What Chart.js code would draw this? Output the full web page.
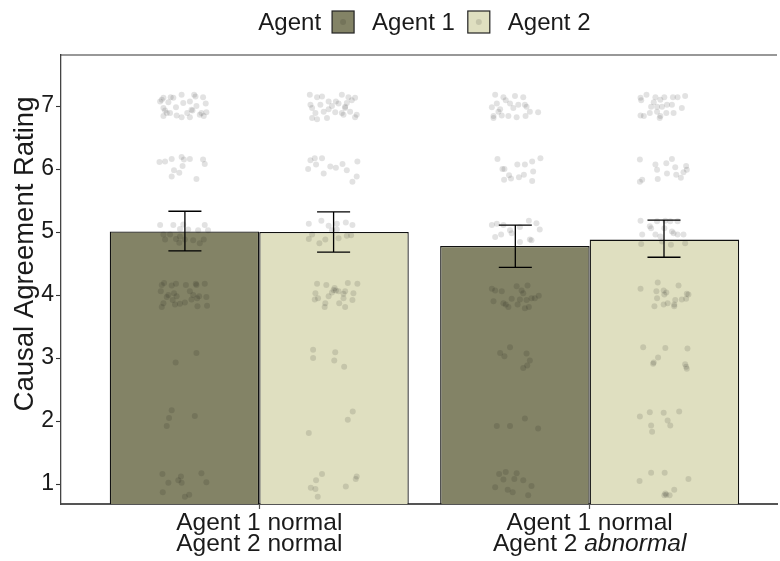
<!DOCTYPE html>
<html>
<head>
<meta charset="utf-8">
<script src="https://cdn.jsdelivr.net/npm/chart.js@4/dist/chart.umd.min.js"></script>
<style>
  html, body { margin: 0; padding: 0; background: #fff; overflow: hidden; }
  canvas { display: block; }
</style>
</head>
<body>
<canvas id="chart" width="780" height="561"></canvas>
<script>
// ---- data -------------------------------------------------------------
const agents = ['Agent 1', 'Agent 2'];
// each condition label has two lines; text between underscores is italic
const conditions = [
  ['Agent 1 normal', 'Agent 2 normal'],
  ['Agent 1 normal', 'Agent 2 _abnormal_']
];
const meanAgent1 = [5.01, 4.78];
const meanAgent2 = [5.00, 4.88];
const ciLowAgent1 = [4.70, 4.44];
const ciHighAgent1 = [5.33, 5.11];
const ciLowAgent2 = [4.68, 4.60];
const ciHighAgent2 = [5.32, 5.19];
const yTicks = [1, 2, 3, 4, 5, 6, 7];
const yTitle = 'Causal Agreement Rating';
const legendTitle = 'Agent';

// individual responses: [horizontal jitter, jittered rating]
const responsesAgent1Normal = [
  [-0.070,7.10],[-0.065,7.13],[-0.043,7.14],[-0.035,7.13],[-0.010,7.18],[0.028,7.18],[0.032,7.15],[0.055,7.14],
  [-0.075,7.07],[-0.050,7.06],[-0.027,6.98],[-0.065,6.97],[-0.060,6.93],[-0.045,6.89],[-0.005,7.05],[0.015,7.07],
  [0.020,6.94],[0.035,7.00],[0.063,7.04],[0.065,6.90],[-0.065,6.84],[-0.025,6.85],[-0.010,6.82],[0.015,6.82],
  [0.045,6.86],[0.057,6.84],[0.007,6.89],[-0.055,6.89],[0.023,6.93],[0.050,6.89],
  [-0.077,6.11],[-0.060,6.12],[-0.040,6.16],[-0.010,6.19],[-0.003,6.15],[0.015,6.16],[0.055,6.15],[0.060,6.08],
  [-0.007,6.05],[-0.033,5.98],[-0.017,5.94],[-0.040,5.88],[0.035,5.84],
  [-0.075,5.11],[-0.035,5.11],[-0.005,5.12],[-0.015,5.05],[0.010,5.04],[0.040,5.03],[0.060,5.11],[0.070,5.03],
  [-0.065,4.96],[-0.045,4.96],[-0.027,4.89],[-0.017,4.83],[0.000,4.88],[0.025,4.87],[0.045,4.82],[0.057,4.88],
  [-0.060,4.88],[-0.015,4.93],
  [-0.070,4.16],[-0.063,4.19],[-0.040,4.15],[-0.027,4.18],[0.003,4.16],[0.033,4.18],[0.060,4.18],[-0.073,4.06],
  [-0.050,4.00],[-0.033,4.03],[-0.055,3.97],[-0.037,3.92],[-0.065,3.87],[-0.070,3.81],[-0.030,3.85],[-0.015,3.86],
  [0.000,3.88],[0.015,4.06],[0.025,4.00],[0.037,3.95],[0.043,3.98],[0.065,3.97],[0.038,3.82],[0.067,3.83],
  [0.035,4.16],[0.020,3.93],[-0.025,3.98],
  [0.035,3.08],[-0.028,2.93],
  [-0.040,2.17],[-0.048,2.05],[-0.055,1.92],[0.030,2.08],
  [-0.068,1.16],[-0.012,1.12],[0.050,1.17],[-0.050,1.02],[-0.020,1.06],[-0.010,1.02],[0.065,1.03],[-0.067,0.87],
  [0.000,0.80],[0.013,0.83]
];
const responsesAgent2Normal = [
  [-0.072,7.18],[-0.050,7.14],[-0.035,7.15],[0.025,7.18],[0.045,7.14],[-0.070,7.02],[-0.065,6.97],[-0.040,7.02],
  [-0.015,7.07],[-0.005,7.00],[0.007,7.07],[0.015,7.04],[0.035,6.97],[0.040,7.05],[0.055,7.09],[0.065,7.13],
  [-0.055,6.89],[-0.030,6.91],[-0.015,6.95],[0.005,6.90],[0.025,6.89],[0.035,6.99],[0.070,6.86],[0.065,6.82],
  [-0.065,6.81],[-0.050,6.79],[-0.020,6.81],[0.030,6.86],[0.050,6.91],
  [-0.070,6.14],[-0.057,6.17],[-0.035,6.17],[-0.053,6.07],[-0.077,6.00],[-0.010,6.04],[0.007,6.02],[0.027,6.08],
  [0.040,5.98],[0.072,6.12],[-0.030,5.93],[0.070,5.88],[0.057,5.80],
  [-0.075,5.13],[-0.037,5.18],[-0.015,5.10],[0.010,5.13],[0.037,5.15],[0.057,5.11],[-0.065,4.96],[-0.075,4.89],
  [-0.043,4.82],[-0.005,5.03],[0.010,5.04],[0.040,4.94],[0.053,4.95],[-0.025,4.88],[0.015,4.90],
  [-0.050,4.18],[-0.022,4.16],[0.003,4.11],[0.007,4.07],[0.043,4.19],[0.072,4.18],[-0.055,4.03],[-0.047,3.95],
  [-0.057,3.93],[-0.015,3.98],[-0.005,4.04],[0.015,4.06],[0.030,4.02],[0.060,4.03],[-0.025,3.87],[-0.027,3.81],
  [0.017,3.87],[0.035,3.81],[0.057,3.92],[0.030,3.95],[0.000,4.08],[0.035,4.06],
  [-0.062,3.13],[-0.062,3.00],[0.005,3.09],[0.002,2.96],[0.032,2.86],
  [0.058,2.15],[0.043,2.02],[-0.075,1.81],
  [-0.035,1.16],[-0.053,1.06],[-0.069,0.94],[-0.055,0.92],[-0.048,0.80],[0.037,0.96],[0.067,1.08],[0.070,1.12]
];
const responsesAgent1Abnormal = [
  [-0.061,7.18],[-0.036,7.14],[-0.029,7.09],[-0.001,7.16],[0.024,7.14],[-0.056,7.04],[-0.071,6.98],[-0.046,6.95],
  [-0.016,7.04],[0.009,7.02],[0.029,7.02],[0.034,6.99],[0.044,6.91],[0.069,6.90],[-0.066,6.84],[-0.066,6.81],
  [-0.041,6.85],[-0.021,6.84],[0.004,6.82],[0.031,6.84],[-0.051,6.91],[-0.006,6.97],
  [-0.054,6.16],[-0.039,6.00],[-0.033,6.00],[0.006,6.07],[0.029,6.07],[0.051,6.12],[0.076,6.17],[-0.019,5.90],
  [0.011,5.87],[0.026,5.91],[-0.034,5.83],[-0.013,5.85],[0.051,5.81],[0.054,5.96],
  [-0.071,5.11],[-0.056,5.13],[-0.036,5.11],[-0.016,5.03],[0.014,5.08],[0.041,5.18],[0.064,5.14],[0.074,5.04],
  [-0.061,4.92],[-0.043,4.96],[-0.011,4.98],[0.014,4.84],[0.049,4.87],[0.044,4.88],
  [-0.071,4.10],[-0.061,4.07],[-0.041,4.06],[0.004,4.14],[0.019,4.07],[0.037,4.15],[-0.066,3.90],[-0.036,3.87],
  [-0.029,3.85],[-0.021,3.81],[-0.011,3.94],[0.007,3.85],[0.014,3.93],[0.034,3.92],[0.049,3.95],[0.059,3.95],
  [0.071,3.99],[0.029,3.79],[0.041,3.81],[0.024,4.03],
  [-0.016,3.17],[-0.046,3.08],[-0.033,3.03],[0.034,3.07],[0.044,2.96],[0.036,2.88],[0.024,2.84],
  [-0.056,1.92],[-0.016,1.92],[0.029,2.04],[0.069,1.88],
  [-0.049,1.16],[-0.029,1.19],[0.004,1.17],[-0.036,1.07],[-0.003,1.08],[0.024,1.06],[-0.061,0.95],[-0.023,0.91],
  [-0.008,0.87],[0.049,0.97],[0.039,0.82]
];
const responsesAgent2Abnormal = [
  [-0.071,7.13],[-0.069,7.09],[-0.053,7.18],[-0.026,7.14],[-0.011,7.10],[0.001,7.14],[0.027,7.14],[0.041,7.14],
  [0.064,7.16],[-0.031,7.06],[-0.039,6.99],[-0.006,6.99],[0.009,7.02],[0.024,7.02],[0.054,6.97],[-0.071,6.85],
  [-0.061,6.84],[-0.043,6.89],[-0.021,6.91],[-0.011,6.84],[-0.013,6.81],[0.007,6.89],[0.029,6.89],[-0.021,6.99],
  [-0.073,6.15],[-0.026,6.07],[-0.021,5.99],[0.007,6.09],[0.024,6.16],[0.034,6.03],[0.067,6.05],[0.069,5.99],
  [0.009,5.93],[-0.019,5.84],[-0.066,5.83],[-0.073,5.80],[0.037,5.91],[0.051,5.86],[0.059,5.95],
  [-0.071,5.18],[-0.043,5.09],[-0.039,5.06],[-0.021,5.17],[0.004,5.18],[0.019,5.17],[0.041,5.17],[-0.066,4.96],
  [-0.026,4.96],[-0.011,4.93],[0.029,4.98],[0.041,4.96],[0.059,4.96],[-0.069,4.81],[-0.006,4.85],[0.021,4.80],
  [0.064,4.82],[0.001,5.06],[0.024,5.01],
  [-0.071,4.10],[-0.019,4.20],[0.044,4.15],[-0.023,4.06],[-0.001,4.07],[0.007,4.04],[-0.021,3.95],[0.001,4.01],
  [0.069,4.02],[0.074,4.01],[0.067,3.94],[-0.029,3.82],[-0.001,3.85],[0.011,3.87],[0.031,3.82],[0.034,3.92],
  [0.054,3.93],[0.031,3.85],
  [-0.063,3.17],[0.004,3.16],[0.071,3.15],[-0.018,3.01],[-0.031,2.93],[-0.033,2.91],[0.064,2.90],[0.067,2.86],
  [0.069,2.83],
  [-0.073,2.07],[-0.043,2.14],[-0.001,2.13],[0.046,2.15],[0.011,2.01],[-0.039,1.93],[0.019,1.93],[-0.036,1.83],
  [-0.074,1.05],[-0.039,1.18],[0.002,1.18],[0.074,1.08],[0.031,0.91],[0.001,0.82],[0.007,0.83],[0.017,0.82],
  [0.004,0.85]
];

// ---- styling ----------------------------------------------------------
const FONT = '"Liberation Sans", Arial, Helvetica, sans-serif';
const TEXT = '#1a1a1a';
const fills = ['#838366', '#dfdfc0'];
const dotColor = 'rgba(0,0,0,0.115)';
const dotRadius = 3;
const dodge = [-0.225, 0.225];   // bar centres inside a group (group width 0.9)
const capHalf = 0.05;            // half width of error-bar caps
const xMin = 0.4, xFull = 2.6;   // full panel range; the right part is cut at the canvas edge

const means = [meanAgent1, meanAgent2];
const ciLow = [ciLowAgent1, ciLowAgent2];
const ciHigh = [ciHighAgent1, ciHighAgent2];
const responses = [
  [responsesAgent1Normal, responsesAgent1Abnormal],
  [responsesAgent2Normal, responsesAgent2Abnormal]
];

Chart.defaults.font.family = FONT;
Chart.defaults.color = TEXT;

const barSets = agents.map((name, s) => ({
  type: 'bar',
  label: name,
  order: 2,
  data: conditions.map((_, i) => ({ x: i + 1, y: means[s][i] })),
  backgroundColor: fills[s],
  borderColor: '#111',
  borderWidth: 1.3,
  borderSkipped: false,
  categoryPercentage: 0.905,
  barPercentage: 1.0,
  grouped: true
}));

const dotSets = [];
agents.forEach((name, s) => {
  conditions.forEach((_, i) => {
    dotSets.push({
      type: 'scatter',
      label: name + ' responses ' + (i + 1),
      order: 1,
      data: responses[s][i].map(([dx, v]) => ({ x: i + 1 + dodge[s] + dx, y: v })),
      backgroundColor: dotColor,
      borderWidth: 0,
      pointRadius: dotRadius,
      pointHoverRadius: dotRadius
    });
  });
});

function drawRich(ctx, line, cx, y, size) {
  // split "plain _italic_ plain" into runs and centre the whole line
  const parts = line.split('_').map((t, k) => ({ t, italic: k % 2 === 1 })).filter(p => p.t.length);
  const fontOf = p => (p.italic ? 'italic ' : '') + size + 'px ' + FONT;
  let total = 0;
  parts.forEach(p => { ctx.font = fontOf(p); p.w = ctx.measureText(p.t).width; total += p.w; });
  let x = cx - total / 2;
  ctx.textAlign = 'left';
  parts.forEach(p => { ctx.font = fontOf(p); ctx.fillText(p.t, x, y); x += p.w; });
}

const decorations = {
  id: 'decorations',
  afterDatasetsDraw(chart) {
    const { ctx, scales: { x, y } } = chart;
    ctx.save();
    ctx.strokeStyle = '#000';
    ctx.lineWidth = 1.3;
    agents.forEach((_, s) => {
      conditions.forEach((__, i) => {
        const c = i + 1 + dodge[s];
        const xl = x.getPixelForValue(c - capHalf);
        const xr = x.getPixelForValue(c + capHalf);
        const xc = x.getPixelForValue(c);
        const yl = y.getPixelForValue(ciLow[s][i]);
        const yh = y.getPixelForValue(ciHigh[s][i]);
        ctx.beginPath();
        ctx.moveTo(xl, yh); ctx.lineTo(xr, yh);
        ctx.moveTo(xc, yh); ctx.lineTo(xc, yl);
        ctx.moveTo(xl, yl); ctx.lineTo(xr, yl);
        ctx.stroke();
      });
    });
    ctx.restore();
  },
  afterDraw(chart) {
    const { ctx, chartArea: a, scales: { x } } = chart;
    ctx.save();
    // panel top edge
    ctx.strokeStyle = '#333';
    ctx.lineWidth = 1.2;
    ctx.beginPath();
    ctx.moveTo(a.left - 0.6, a.top);
    ctx.lineTo(a.right, a.top);
    ctx.stroke();

    ctx.fillStyle = TEXT;
    ctx.textBaseline = 'alphabetic';
    // condition labels under the axis
    conditions.forEach((lines, i) => {
      const cx = x.getPixelForValue(i + 1);
      lines.forEach((ln, k) => drawRich(ctx, ln, cx, a.bottom + 26 + k * 21, 24.5));
    });

    // y axis title
    ctx.save();
    ctx.font = '27.5px ' + FONT;
    ctx.textAlign = 'center';
    ctx.translate(33, 254);
    ctx.rotate(-Math.PI / 2);
    ctx.fillText(yTitle, 0, 0);
    ctx.restore();

    // legend across the top, centred over the full panel
    const size = 24, box = 22, midY = 22;
    ctx.font = size + 'px ' + FONT;
    const wTitle = ctx.measureText(legendTitle).width;
    const wItems = agents.map(t => ctx.measureText(t).width);
    const gapTitle = 11, gapKey = 18, gapItem = 13;
    let total = wTitle + gapTitle;
    wItems.forEach((w, s) => { total += box + gapKey + w + (s < agents.length - 1 ? gapItem : 0); });
    let lx = x.getPixelForValue((xMin + xFull) / 2) - total / 2;
    ctx.textBaseline = 'middle';
    ctx.textAlign = 'left';
    ctx.fillText(legendTitle, lx, midY + 1);
    lx += wTitle + gapTitle;
    agents.forEach((t, s) => {
      ctx.fillStyle = fills[s];
      ctx.fillRect(lx, midY - box / 2, box, box);
      ctx.strokeStyle = '#222';
      ctx.lineWidth = 1.2;
      ctx.strokeRect(lx, midY - box / 2, box, box);
      ctx.fillStyle = dotColor;
      ctx.beginPath();
      ctx.arc(lx + box / 2, midY, dotRadius, 0, Math.PI * 2);
      ctx.fill();
      lx += box + gapKey;
      ctx.fillStyle = TEXT;
      ctx.fillText(t, lx, midY + 1);
      lx += wItems[s] + gapItem;
    });
    ctx.restore();
  }
};

new Chart(document.getElementById('chart'), {
  type: 'bar',
  data: { datasets: [...dotSets, ...barSets] },
  options: {
    responsive: false,
    animation: false,
    events: [],
    layout: { padding: { top: 55, left: 0, right: 0, bottom: 0 } },
    plugins: { legend: { display: false }, tooltip: { enabled: false } },
    scales: {
      x: {
        type: 'linear',
        offset: false,
        min: xMin,
        max: 2.567,
        afterBuildTicks: s => { s.ticks = conditions.map((_, i) => ({ value: i + 1 })); },
        afterFit: s => { s.height = 57; },
        ticks: { display: false },
        grid: { offset: false, drawOnChartArea: false, drawTicks: true, tickLength: 5, color: '#555', tickWidth: 1.2 },
        border: { display: true, color: '#555', width: 2 }
      },
      y: {
        type: 'linear',
        min: 0.683,
        max: 7.81,
        afterBuildTicks: s => { s.ticks = yTicks.map(v => ({ value: v })); },
        afterFit: s => { s.width = 61; },
        ticks: { font: { size: 23 }, color: TEXT, padding: 2, callback: v => String(v) },
        grid: { drawOnChartArea: false, drawTicks: true, tickLength: 5, color: '#333', tickWidth: 1.1 },
        border: { display: true, color: '#444', width: 1.3 }
      }
    }
  },
  plugins: [decorations]
});
</script>
</body>
</html>
